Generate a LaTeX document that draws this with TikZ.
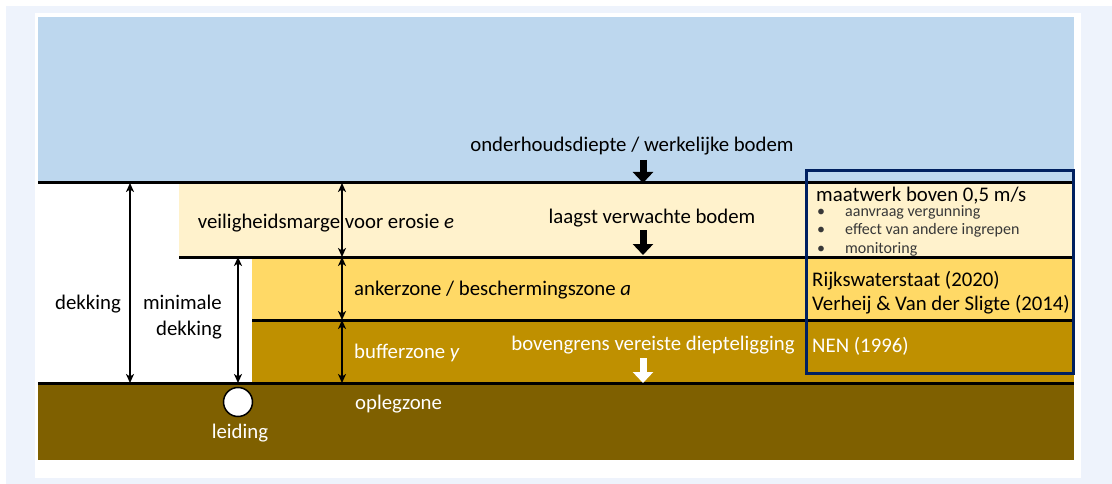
\documentclass[tikz,border=0pt]{standalone}
\usepackage{fontspec}
\setmainfont{Carlito}
\usepackage{tikz}
\usetikzlibrary{arrows.meta}
\definecolor{rand}{HTML}{EEF3FC}
\definecolor{lucht}{HTML}{BDD7EE}
\definecolor{beige}{HTML}{FFF2CC}
\definecolor{geel}{HTML}{FFD966}
\definecolor{buffer}{HTML}{BF9000}
\definecolor{opleg}{HTML}{7F6000}
\definecolor{donkerblauw}{HTML}{002060}
\tikzset{
	tekst/.style={inner sep=0pt, font=\fontsize{20.8}{26}\selectfont},
	wit/.style={tekst, text=white},
	klein/.style={inner sep=0pt, font=\fontsize{16}{18.5}\selectfont, text=black!78},
	grens/.style={line width=3pt},
	maat/.style={line width=1.6pt, <->, >={Stealth[length=9pt,width=8pt,inset=2.5pt]}},
	blok/.style={line width=7pt, -{Triangle[length=11pt,width=20pt]}},
}

\begin{document}
\begin{tikzpicture}[x=1pt,y=-1pt]
	\useasboundingbox (0,0) rectangle (1112,484);
	\fill[white] (0,0) rectangle (1112,484);
	\fill[rand] (6,6) rectangle (1112,484);
	\fill[white] (35,13) rectangle (1081,478);
	\fill[lucht] (38,17) rectangle (1074,183);
	\fill[beige] (179,183) rectangle (1074,257);
	\fill[geel] (252,257) rectangle (1074,320);
	\fill[buffer] (252,320) rectangle (1074,383);
	\fill[opleg] (38,383) rectangle (1074,460);

	\coordinate (bodem) at (38,183);
	\coordinate (erosie) at (179,257);
	\coordinate (anker) at (252,320);
	\coordinate (leg) at (38,383);
	\coordinate (rechts) at (1074,0);
	\coordinate (xdek) at (130,0);
	\coordinate (xmin) at (238,0);
	\coordinate (xzone) at (342,0);
	\coordinate (xpijl) at (643,0);

	\draw[grens] (bodem) -- (bodem -| rechts);
	\draw[grens] (erosie) -- (erosie -| rechts);
	\draw[grens] (anker) -- (anker -| rechts);
	\draw[grens] (leg) -- (leg -| rechts);

	\draw[maat] (xdek |- bodem) -- (xdek |- leg);
	\draw[maat] (xmin |- erosie) -- (xmin |- leg);
	\draw[maat] (xzone |- bodem) -- (xzone |- erosie);
	\draw[maat] (xzone |- erosie) -- (xzone |- anker);
	\draw[maat] (xzone |- anker) -- (xzone |- leg);

	\node[circle, draw, line width=1.5pt, fill=white, minimum size=29pt, inner sep=0pt] (leiding) at (238,402) {};

	\node[tekst, anchor=base] (onderhoud) at (632,152) {onderhoudsdiepte / werkelijke bodem};
	\node[tekst, anchor=base] (laagst) at (652,223) {laagst verwachte bodem};
	\node[tekst, anchor=base] (marge) at (326,229) {veiligheidsmarge voor erosie \textit{e}};
	\node[tekst, anchor=base] (dekking) at (88,309) {dekking};
	\node[tekst, anchor=east, align=right] (mindek) at (222,317) {minimale\\dekking};
	\node[tekst, anchor=base west] (ankerzone) at (354,295) {ankerzone / beschermingszone \textit{a}};
	\node[wit, anchor=base west] (bufferzone) at (354,358) {bufferzone \textit{y}};
	\node[wit, anchor=base] (bovengrens) at (653,350) {bovengrens vereiste diepteligging};
	\node[wit, anchor=base west] (oplegzone) at (355,409) {oplegzone};
	\node[wit, anchor=base] (leidingtekst) at (240,438) {leiding};

	\draw[blok] ([yshift=-8pt]onderhoud.base -| xpijl) -- (xpijl |- bodem);
	\draw[blok] ([yshift=-7pt]laagst.base -| xpijl) -- ([yshift=2pt]xpijl |- erosie);
	\draw[blok, white] ([yshift=-8pt]bovengrens.base -| xpijl) -- (xpijl |- leg);

	\draw[donkerblauw, line width=3pt] (806,171) rectangle (1073,373);
	\node[tekst, anchor=base west] (maatwerk) at (816,201) {maatwerk boven 0,5 m/s};
	\foreach \punt [count=\i] in {aanvraag vergunning, effect van andere ingrepen, monitoring}
	{
		\node[klein, anchor=base west] (bol\i) at (817,197.5+18.5*\i) {\textbullet};
		\node[klein, anchor=base west] (punt\i) at (845,197.5+18.5*\i) {\punt};
	}
	\node[tekst, anchor=base west] (rws) at (812,286) {Rijkswaterstaat (2020)};
	\node[tekst, anchor=base west] (verheij) at (812,310) {Verheij \& Van der Sligte (2014)};
	\node[wit, anchor=base west] (nen) at (812,352) {NEN (1996)};
\end{tikzpicture}
\end{document}
